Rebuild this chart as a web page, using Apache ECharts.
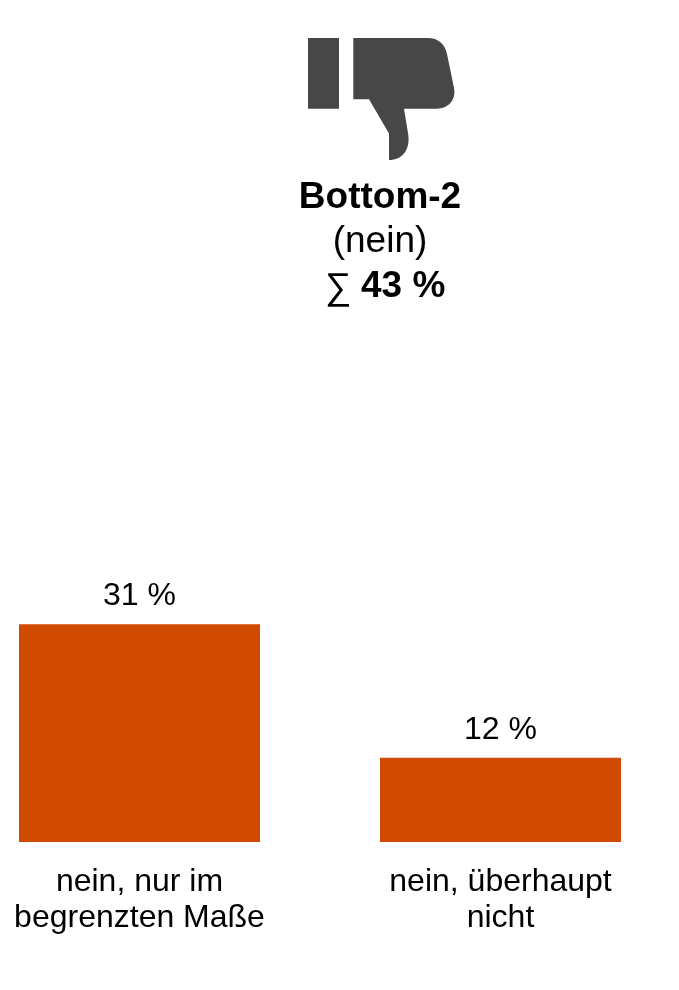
<!DOCTYPE html>
<html><head><meta charset="utf-8">
<style>html,body{margin:0;padding:0;background:#fff}#c{width:679px;height:990px}</style>
<script src="https://cdn.jsdelivr.net/npm/echarts@6/dist/echarts.min.js"></script>
</head><body><div id="c"></div>
<script>
var categories = ['nein, nur im\nbegrenzten Maße', 'nein, überhaupt\nnicht'];
var values = [31, 12];
var heading = 'Bottom-2';
var subheading = '(nein)';
var sumSymbol = '∑';
var sumValue = '43 %';
var FONT = '"Liberation Sans", Arial, sans-serif';
echarts.graphic.registerShape('thumbHand', echarts.graphic.extendPath('M353.3 38 L428 38 C438 38 445 44 447 54 L454 88 C456.5 100 448 108.7 437 108.7 L404 108.7 L408 133 C411 150 402 160 389 160 L389 133.5 L369 99.3 L353.3 99.3 Z', {}));
var chart = echarts.init(document.getElementById('c'), null, {renderer:'canvas'});
chart.setOption({
  animation:false,
  backgroundColor:'#fff',
  grid:{left:-41,width:722,top:561,height:281,containLabel:false,outerBoundsMode:'none'},
  xAxis:{type:'category',data:categories,
    axisLine:{show:false},axisTick:{show:false},
    axisLabel:{interval:0,color:'#000',fontFamily:FONT,fontSize:32,lineHeight:36,margin:22,hideOverlap:false}},
  yAxis:{type:'value',min:0,max:40,show:false,splitLine:{show:false}},
  series:[{type:'bar',data:values,barWidth:241,
    itemStyle:{color:'#D04A02'},
    label:{show:true,position:'top',distance:12,color:'#000',fontFamily:FONT,fontSize:32,formatter:'{c} %'}}],
  graphic:[
    {type:'rect',shape:{x:308,y:38,width:31,height:70.7},style:{fill:'#474747'}},
    {type:'thumbHand',style:{fill:'#474747'}},
    {type:'text',x:380,y:198,style:{text:heading,fill:'#000',font:'bold 37px '+FONT,align:'center',verticalAlign:'middle'}},
    {type:'text',x:380,y:242,style:{text:subheading,fill:'#000',font:'37px '+FONT,align:'center',verticalAlign:'middle'}},
    {type:'text',x:325,y:289,style:{text:sumSymbol,fill:'#000',font:'37px '+FONT,align:'left',verticalAlign:'middle'}},
    {type:'text',x:361,y:287,style:{text:sumValue,fill:'#000',font:'bold 37px '+FONT,align:'left',verticalAlign:'middle'}}
  ]
});
</script></body></html>
